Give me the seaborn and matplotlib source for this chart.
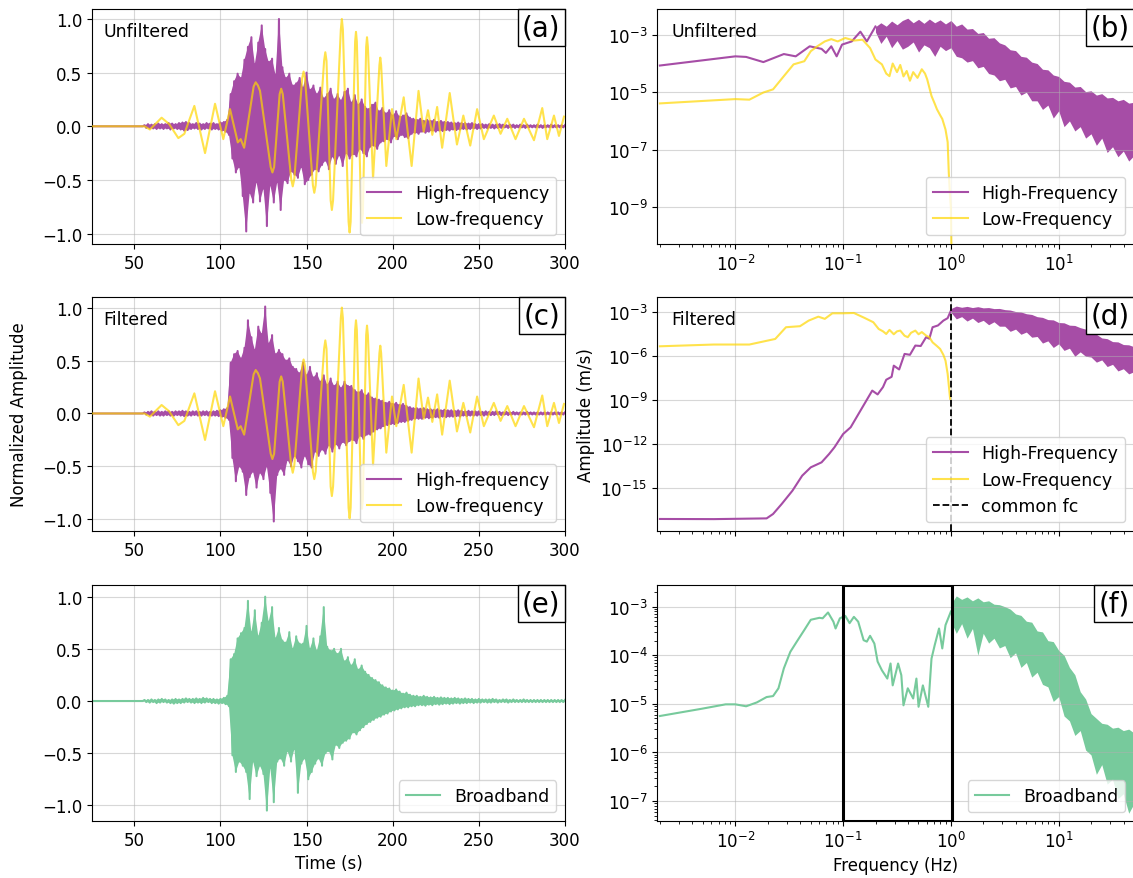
import numpy as np
import matplotlib
matplotlib.use("Agg")
import matplotlib.pyplot as plt
import seaborn as sns
from matplotlib.offsetbox import AnchoredText

plt.rcParams['font.family'] = ['DejaVu Sans']
plt.rcParams['font.size'] = 12

# ---------------- waveform data (normalized amplitude) ----------------
PRE_T = [25.5, 55.0]
PRE_V = [0.0, 0.0]
WAVE_T0 = 56  # peaks at 56,58,...  troughs at 57,59,...

HF_A_UP = [0.01, 0.02, 0.015, 0.02, 0.025, 0.02, 0.02, 0.03, 0.025, 0.02,
           0.03, 0.035, 0.04, 0.03, 0.02, 0.03, 0.025, 0.02, 0.03, 0.025,
           0.03, 0.02, 0.035, 0.04, 0.06, 0.30, 0.42, 0.49, 0.45, 0.62,
           0.74, 0.83, 0.58, 0.78, 0.94, 0.72, 0.60, 0.63, 0.48, 1.00,
           0.55, 0.45, 0.49, 0.38, 0.40, 0.45, 0.36, 0.50, 0.34, 0.38,
           0.30, 0.36, 0.26, 0.30, 0.35, 0.25, 0.30, 0.24, 0.32, 0.35,
           0.22, 0.29, 0.20, 0.25, 0.18, 0.16, 0.20, 0.22, 0.14, 0.17,
           0.12, 0.15, 0.10, 0.14, 0.09, 0.10, 0.12, 0.08, 0.07, 0.06,
           0.07, 0.05, 0.06, 0.05, 0.06, 0.04, 0.05, 0.04, 0.04, 0.035,
           0.03, 0.035, 0.03, 0.03, 0.025, 0.03, 0.02, 0.02, 0.02, 0.015,
           0.02, 0.015, 0.015, 0.02, 0.015, 0.01, 0.015, 0.015, 0.01, 0.015,
           0.01, 0.015, 0.01, 0.01, 0.015, 0.01, 0.01, 0.01, 0.015, 0.01,
           0.01, 0.01, 0.01]
HF_A_LO = [0.015, 0.02, 0.02, 0.025, 0.02, 0.025, 0.02, 0.03, 0.02, 0.025,
           0.03, 0.04, 0.035, 0.025, 0.02, 0.025, 0.03, 0.025, 0.02, 0.03,
           0.025, 0.03, 0.04, 0.05, 0.08, 0.30, 0.43, 0.38, 0.65, 0.98,
           0.62, 0.71, 0.52, 0.70, 0.58, 0.93, 0.55, 0.71, 0.52, 0.78,
           0.50, 0.53, 0.42, 0.45, 0.48, 0.38, 0.54, 0.50, 0.45, 0.40,
           0.42, 0.36, 0.32, 0.40, 0.28, 0.35, 0.27, 0.37, 0.25, 0.30,
           0.26, 0.28, 0.21, 0.25, 0.28, 0.19, 0.18, 0.21, 0.15, 0.14,
           0.12, 0.15, 0.09, 0.12, 0.08, 0.10, 0.11, 0.07, 0.06, 0.07,
           0.05, 0.06, 0.05, 0.04, 0.05, 0.04, 0.045, 0.035, 0.04, 0.03,
           0.035, 0.03, 0.025, 0.03, 0.025, 0.02, 0.025, 0.02, 0.015, 0.02,
           0.015, 0.02, 0.015, 0.015, 0.01, 0.015, 0.01, 0.015, 0.01, 0.01,
           0.015, 0.01, 0.01, 0.01, 0.01, 0.015, 0.01, 0.01, 0.01, 0.01,
           0.01, 0.01]

HF_C_UP = [0.01, 0.015, 0.02, 0.015, 0.02, 0.015, 0.02, 0.02, 0.015, 0.02,
           0.02, 0.025, 0.02, 0.015, 0.02, 0.02, 0.015, 0.02, 0.02, 0.015,
           0.02, 0.025, 0.03, 0.04, 0.05, 0.48, 0.56, 0.59, 0.52, 0.62,
           0.88, 0.72, 0.60, 0.82, 0.75, 1.01, 0.66, 0.74, 0.56, 0.60,
           0.56, 0.50, 0.52, 0.44, 0.42, 0.38, 0.48, 0.36, 0.44, 0.34,
           0.38, 0.30, 0.36, 0.27, 0.33, 0.26, 0.30, 0.24, 0.30, 0.26,
           0.26, 0.22, 0.20, 0.22, 0.17, 0.19, 0.15, 0.14, 0.13, 0.12,
           0.10, 0.11, 0.09, 0.10, 0.08, 0.09, 0.07, 0.06, 0.05, 0.05,
           0.045, 0.05, 0.04, 0.04, 0.035, 0.04, 0.03, 0.035, 0.03, 0.03,
           0.025, 0.03, 0.025, 0.02, 0.025, 0.02, 0.02, 0.02, 0.015, 0.02,
           0.015, 0.015, 0.02, 0.015, 0.01, 0.015, 0.01, 0.015, 0.01, 0.01,
           0.01, 0.015, 0.01, 0.01, 0.01, 0.01, 0.01, 0.01, 0.01, 0.01,
           0.01, 0.01, 0.01]
HF_C_LO = [0.01, 0.015, 0.02, 0.015, 0.02, 0.02, 0.015, 0.02, 0.02, 0.015,
           0.02, 0.025, 0.02, 0.02, 0.015, 0.02, 0.02, 0.015, 0.02, 0.02,
           0.02, 0.025, 0.03, 0.04, 0.06, 0.42, 0.64, 0.50, 0.55, 0.77,
           0.60, 0.55, 0.70, 0.56, 0.62, 0.50, 0.75, 1.02, 0.58, 0.52,
           0.58, 0.44, 0.50, 0.40, 0.45, 0.51, 0.40, 0.48, 0.51, 0.36,
           0.40, 0.34, 0.38, 0.30, 0.36, 0.29, 0.33, 0.27, 0.30, 0.26,
           0.25, 0.28, 0.21, 0.24, 0.20, 0.20, 0.17, 0.15, 0.14, 0.12,
           0.11, 0.10, 0.10, 0.09, 0.08, 0.08, 0.07, 0.06, 0.05, 0.05,
           0.05, 0.04, 0.045, 0.04, 0.035, 0.04, 0.03, 0.035, 0.03, 0.03,
           0.025, 0.03, 0.02, 0.025, 0.02, 0.02, 0.02, 0.015, 0.02, 0.015,
           0.015, 0.015, 0.01, 0.015, 0.01, 0.015, 0.01, 0.01, 0.01, 0.01,
           0.01, 0.01, 0.01, 0.01, 0.01, 0.01, 0.01, 0.01, 0.01, 0.01,
           0.01, 0.01]

BB_UP = [0.01, 0.01, 0.015, 0.01, 0.015, 0.02, 0.015, 0.01, 0.015, 0.02,
         0.015, 0.02, 0.025, 0.02, 0.02, 0.025, 0.02, 0.03, 0.025, 0.02,
         0.02, 0.015, 0.02, 0.03, 0.05, 0.40, 0.45, 0.60, 0.65, 0.70,
         0.96, 0.66, 0.87, 0.62, 0.75, 1.00, 0.76, 0.90, 0.60, 0.70,
         0.58, 0.56, 0.66, 0.50, 0.62, 0.55, 0.55, 0.72, 0.50, 0.60,
         0.48, 0.62, 0.90, 0.52, 0.48, 0.50, 0.45, 0.50, 0.38, 0.42,
         0.34, 0.40, 0.30, 0.34, 0.28, 0.25, 0.22, 0.20, 0.18, 0.15,
         0.13, 0.12, 0.10, 0.11, 0.09, 0.07, 0.08, 0.06, 0.05, 0.05,
         0.04, 0.05, 0.04, 0.035, 0.04, 0.03, 0.035, 0.03, 0.03, 0.025,
         0.03, 0.025, 0.02, 0.025, 0.02, 0.02, 0.015, 0.02, 0.015, 0.015,
         0.015, 0.02, 0.015, 0.01, 0.015, 0.015, 0.01, 0.015, 0.01, 0.01,
         0.015, 0.01, 0.01, 0.01, 0.01, 0.01, 0.01, 0.01, 0.01, 0.01,
         0.01, 0.01, 0.01]
BB_LO = [0.01, 0.015, 0.01, 0.02, 0.015, 0.01, 0.015, 0.02, 0.025, 0.02,
         0.02, 0.015, 0.01, 0.015, 0.02, 0.015, 0.02, 0.015, 0.01, 0.02,
         0.02, 0.025, 0.02, 0.03, 0.05, 0.52, 0.68, 0.58, 0.62, 0.68,
         0.94, 0.58, 0.72, 0.62, 0.70, 1.05, 0.64, 0.97, 0.58, 0.55,
         0.62, 0.48, 0.58, 0.46, 0.88, 0.60, 0.55, 0.75, 0.68, 0.60,
         0.55, 0.62, 0.50, 0.48, 0.56, 0.42, 0.45, 0.40, 0.38, 0.36,
         0.30, 0.32, 0.28, 0.25, 0.22, 0.20, 0.18, 0.16, 0.15, 0.13,
         0.12, 0.10, 0.09, 0.08, 0.07, 0.06, 0.06, 0.05, 0.05, 0.04,
         0.04, 0.045, 0.035, 0.04, 0.03, 0.035, 0.03, 0.025, 0.03, 0.025,
         0.02, 0.025, 0.02, 0.02, 0.015, 0.02, 0.015, 0.015, 0.01, 0.015,
         0.015, 0.01, 0.015, 0.01, 0.01, 0.015, 0.01, 0.01, 0.01, 0.01,
         0.01, 0.01, 0.01, 0.01, 0.01, 0.01, 0.01, 0.01, 0.01, 0.01,
         0.01, 0.01]

# low-frequency trace: extrema and shoulders (time, value)
LF_T = [25.5, 56, 59.1, 65.9, 70.3, 75.6, 79.1, 84.9, 91.1, 96.9, 101.7, 105.6,
        110.1, 111.8, 113.8, 119.3, 120.5, 121.8, 123.0, 129.2, 130.2, 131.2,
        134.4, 135.3, 136.2, 141.1, 142.0, 142.9, 147.5, 148.3, 149.1,
        153.7, 154.5, 155.3, 160.2, 160.9, 161.6, 164.0, 164.7, 165.4,
        169.9, 170.5, 171.1, 174.4, 175.0, 175.6, 178.2, 178.7, 179.2,
        181.7, 182.2, 182.7, 184.6, 185.1, 185.6, 188.6, 192.3, 192.8, 193.3,
        196.3, 199.6, 202.1, 206.4, 211.0, 215.0, 218.0, 220.5, 223.0, 225.8,
        228.7, 233.1, 237.3, 241.0, 245.0, 249.0, 252.9, 258.7, 262.6, 266.5,
        271.3, 276.2, 282.0, 286.8, 289.7, 293.6, 296.5, 299.4]
LF_V = [0.0, 0.0, -0.03, 0.08, 0.02, -0.11, -0.07, 0.19, -0.25, 0.21, -0.12, 0.16,
        -0.15, -0.12, -0.20, 0.37, 0.41, 0.38, 0.33, -0.38, -0.43, -0.38,
        0.30, 0.35, 0.30, -0.49, -0.56, -0.49, 0.45, 0.51, 0.45,
        -0.55, -0.62, -0.55, 0.61, 0.69, 0.61, -0.69, -0.78, -0.69,
        0.90, 1.00, 0.90, -0.89, -0.99, -0.89, 0.79, 0.88, 0.79,
        -0.81, -0.90, -0.81, 0.74, 0.83, 0.74, -0.49, 0.57, 0.64, 0.57,
        -0.37, 0.16, -0.12, 0.27, -0.37, 0.33, -0.05, 0.15, -0.08, 0.18,
        -0.20, 0.31, -0.17, 0.10, -0.18, 0.16, -0.12, 0.10, -0.07, 0.07,
        -0.12, 0.07, -0.13, 0.17, -0.12, 0.10, -0.09, 0.09]

# ---------------- spectra (log10 frequency [Hz], log10 amplitude [m/s]) ----------------
B_HF_LOGF = [-2.70, -2.0, -1.90, -1.74, -1.55, -1.44, -1.31, -1.20, -1.16, -1.11,
             -1.06, -1.01, -0.92, -0.84, -0.78, -0.70]
B_HF_LOGA = [-4.07, -3.75, -3.77, -3.95, -3.67, -3.75, -3.40, -3.49, -3.63, -3.40,
             -3.75, -3.34, -3.23, -2.89, -3.23, -2.71]
B_BAND_TOP = [-2.72, -2.58, -2.70, -2.52, -2.65, -2.50, -2.42, -2.58, -2.46, -2.60,
              -2.45, -2.58, -2.48, -2.62, -2.50, -2.70, -2.62, -2.80, -2.78, -2.95,
              -2.92, -3.12, -3.10, -3.28, -3.35, -3.52, -3.55, -3.75, -3.78, -3.95,
              -4.00, -4.20, -4.22, -4.40, -4.45, -4.62, -4.65, -4.82, -4.80, -4.98,
              -4.95, -5.10, -5.05, -5.20, -5.18, -5.30, -5.25, -5.38, -5.35]
B_BAND_BOT = [-2.90, -3.30, -3.05, -3.45, -3.20, -3.50, -3.40, -3.25, -3.60, -3.35,
              -3.45, -3.75, -3.40, -3.55, -3.45, -3.75, -3.80, -3.95, -3.90, -4.15,
              -4.10, -4.35, -4.40, -4.60, -4.55, -4.85, -4.80, -5.10, -5.00, -5.30,
              -5.30, -5.60, -5.45, -5.90, -5.65, -6.20, -6.00, -6.35, -6.20, -6.60,
              -6.45, -6.85, -6.60, -7.10, -6.90, -7.25, -7.05, -7.40, -7.20]
B_LF_LOGF = [-2.70, -2.0, -1.87, -1.74, -1.65, -1.55, -1.46, -1.36, -1.30, -1.24,
             -1.17, -1.11, -1.05, -0.98, -0.90, -0.82, -0.75, -0.70, -0.64, -0.60,
             -0.57, -0.54, -0.50, -0.47, -0.44, -0.41, -0.38, -0.35, -0.31, -0.27,
             -0.24, -0.22, -0.18, -0.15, -0.13, -0.10, -0.08, -0.05, -0.03, -0.02,
             -0.01, 0.0, 0.005]
B_LF_LOGA = [-5.39, -5.24, -5.26, -5.01, -4.90, -4.44, -4.03, -3.92, -3.57, -3.40,
             -3.23, -3.15, -3.23, -3.11, -3.20, -3.17, -3.46, -3.86, -4.03, -4.35,
             -4.44, -4.00, -4.30, -4.05, -4.45, -4.26, -4.60, -4.30, -4.50, -4.20,
             -4.35, -4.55, -5.13, -5.40, -5.59, -5.80, -5.93, -6.30, -6.74, -7.77,
             -8.50, -9.03, -10.5]

D_HF_LOGF = [-2.70, -2.2, -1.71, -1.65, -1.57, -1.47, -1.38, -1.30, -1.20, -1.13,
             -1.08, -1.00, -0.93, -0.83, -0.73, -0.68, -0.63, -0.60, -0.55, -0.53,
             -0.48, -0.43, -0.38, -0.33, -0.28, -0.23, -0.20, -0.17, -0.12, -0.07,
             -0.03, 0.0]
D_HF_LOGA = [-17.09, -17.10, -17.05, -16.75, -16.07, -15.16, -14.14, -13.57, -13.23, -12.66,
             -12.20, -11.30, -10.84, -9.59, -8.34, -8.60, -8.10, -7.60, -7.40, -6.64,
             -6.90, -5.84, -5.90, -5.27, -5.30, -4.70, -4.80, -4.02, -3.90, -3.57,
             -3.40, -2.89]
D_BAND_TOP = [-2.75, -2.58, -2.66, -2.60, -2.68, -2.62, -2.70, -2.68, -2.75, -2.74,
              -2.82, -2.85, -2.95, -2.98, -3.10, -3.15, -3.30, -3.35, -3.50, -3.52,
              -3.70, -3.72, -3.88, -3.90, -4.05, -4.15, -4.40, -4.50, -4.75, -4.80,
              -5.00, -5.02, -5.20, -5.22, -5.35]
D_BAND_BOT = [-3.00, -3.45, -3.30, -3.60, -3.40, -3.70, -3.55, -3.85, -3.65, -3.95,
              -3.95, -4.30, -4.15, -4.50, -4.35, -4.70, -4.65, -5.10, -4.95, -5.40,
              -5.15, -5.60, -5.45, -6.00, -5.70, -6.00, -6.05, -6.40, -6.25, -6.70,
              -6.55, -7.00, -6.85, -7.20, -7.05]
D_LF_LOGF = [-2.70, -2.2, -1.87, -1.70, -1.63, -1.53, -1.40, -1.32, -1.23, -1.17,
             -1.10, -1.00, -0.90, -0.80, -0.72, -0.67, -0.63, -0.60, -0.57, -0.53,
             -0.50, -0.47, -0.43, -0.40, -0.37, -0.33, -0.30, -0.27, -0.23, -0.20,
             -0.17, -0.13, -0.10, -0.07, -0.05, -0.03, -0.007]
D_LF_LOGA = [-5.32, -5.20, -5.20, -4.93, -4.82, -4.02, -3.95, -3.57, -3.30, -3.45,
             -3.07, -3.07, -3.05, -3.39, -3.68, -4.14, -4.30, -4.48, -4.20, -4.50,
             -4.30, -4.25, -4.60, -4.70, -4.40, -4.25, -4.50, -4.35, -4.59, -4.70,
             -5.05, -5.30, -5.50, -5.90, -6.30, -7.20, -8.90]

F_BB_LOGF = [-2.70, -2.31, -2.09, -2.0, -1.90, -1.80, -1.71, -1.65, -1.60, -1.55,
             -1.49, -1.43, -1.36, -1.30, -1.22, -1.19, -1.14, -1.09, -1.07, -1.03,
             -0.98, -0.94, -0.90, -0.86, -0.81, -0.78, -0.75, -0.71, -0.68, -0.64,
             -0.59, -0.56, -0.54, -0.49, -0.46, -0.44, -0.40, -0.35, -0.32, -0.30,
             -0.26, -0.21, -0.18, -0.15, -0.11, -0.08, -0.05, 0.0]
F_BB_LOGA = [-5.25, -5.10, -5.01, -5.01, -5.05, -4.97, -4.86, -4.84, -4.68, -4.27,
             -3.93, -3.72, -3.48, -3.27, -3.23, -3.24, -3.12, -3.31, -3.45, -3.24,
             -3.19, -3.34, -3.21, -3.31, -3.69, -3.72, -3.60, -3.76, -4.13, -4.31,
             -4.48, -4.17, -4.62, -4.17, -4.41, -5.03, -4.68, -4.89, -4.48, -5.06,
             -4.62, -5.06, -4.07, -3.79, -3.45, -3.86, -3.38, -3.10]
F_BAND_TOP = [-2.95, -2.78, -2.85, -2.80, -2.88, -2.82, -2.90, -2.88, -2.95, -2.96,
              -3.00, -3.05, -3.15, -3.18, -3.30, -3.32, -3.50, -3.52, -3.70, -3.72,
              -3.90, -4.00, -4.25, -4.40, -4.75, -4.90, -5.20, -5.30, -5.40, -5.42,
              -5.50, -5.48, -5.55, -5.52, -5.60]
F_BAND_BOT = [-3.30, -3.55, -3.35, -3.65, -3.45, -4.00, -3.55, -3.75, -3.65, -3.85,
              -3.80, -4.05, -3.95, -4.25, -4.15, -4.45, -4.35, -4.60, -4.65, -4.95,
              -4.85, -5.25, -5.35, -5.65, -5.55, -5.95, -6.05, -6.45, -6.25, -6.65,
              -6.55, -6.95, -6.85, -7.25, -7.05]

BAND_B_LOGF = np.round(np.arange(-0.70, 1.701, 0.05), 3)   # spectral sample grid
BAND_DF_LOGF = np.round(np.arange(0.0, 1.701, 0.05), 3)

# alpha-0.7 colours pre-blended on white (purple, gold, mediumseagreen)
C_HF = '#A64DA6'
C_LF = 'gold'
C_BB = '#77CA9C'
ALPHA_LF = 0.7
ANNOT_FS = 12.5


def zigzag(up, lo):
    n = len(up) + len(lo)
    t = WAVE_T0 + np.arange(n, dtype=float)
    y = np.empty(n)
    y[0::2] = up
    y[1::2] = -np.asarray(lo)
    return np.concatenate([PRE_T, t]), np.concatenate([PRE_V, y])


def outline(up, lo):
    t_up = WAVE_T0 + 2.0 * np.arange(len(up))
    t_lo = WAVE_T0 + 1.0 + 2.0 * np.arange(len(lo))
    xs = np.concatenate([t_up, t_lo[::-1]])
    ys = np.concatenate([np.asarray(up), -np.asarray(lo)[::-1]])
    return xs, ys


def draw_wave(ax, up, lo, color, label):
    xs, ys = outline(up, lo)
    ax.fill(xs, ys, color=color, lw=0, zorder=2)
    t, y = zigzag(up, lo)
    sns.lineplot(x=t, y=y, ax=ax, color=color, label=label, estimator=None,
                 sort=False, zorder=2.1)


def panel_label(ax, s):
    at = AnchoredText(s, loc='upper right', prop=dict(size=20), frameon=True,
                      pad=0.16, borderpad=0.0)
    at.patch.set_boxstyle('square,pad=0')
    at.patch.set_edgecolor('black')
    at.patch.set_linewidth(1.0)
    at.zorder = 10
    ax.add_artist(at)


fig = plt.figure(figsize=(11.33, 8.79), dpi=100)
L, LWD = 92 / 1133, 473 / 1133
R, RWD = 657 / 1133, 477 / 1133
rows = [(1 - 245 / 879, 235 / 879), (1 - 532 / 879, 234 / 879), (1 - 822 / 879, 236 / 879)]
ax_a = fig.add_axes([L, rows[0][0], LWD, rows[0][1]])
ax_b = fig.add_axes([R, rows[0][0], RWD, rows[0][1]])
ax_c = fig.add_axes([L, rows[1][0], LWD, rows[1][1]])
ax_d = fig.add_axes([R, rows[1][0], RWD, rows[1][1]])
ax_e = fig.add_axes([L, rows[2][0], LWD, rows[2][1]])
ax_f = fig.add_axes([R, rows[2][0], RWD, rows[2][1]])

# ---- time series ----
for ax, up, lo, txt in [(ax_a, HF_A_UP, HF_A_LO, 'Unfiltered'), (ax_c, HF_C_UP, HF_C_LO, 'Filtered')]:
    draw_wave(ax, up, lo, C_HF, 'High-frequency')
    sns.lineplot(x=np.array(LF_T), y=np.array(LF_V), ax=ax, color=C_LF, alpha=ALPHA_LF,
                 label='Low-frequency', estimator=None, sort=False, zorder=3)
    ax.text(0.024, 0.905, txt, transform=ax.transAxes, fontsize=ANNOT_FS, va='center', ha='left')

draw_wave(ax_e, BB_UP, BB_LO, C_BB, 'Broadband')

ax_a.set_ylim(-1.097, 1.093)
ax_c.set_ylim(-1.11, 1.10)
ax_e.set_ylim(-1.15, 1.112)
for ax in (ax_a, ax_c, ax_e):
    ax.set_xlim(25.5, 300)
    ax.set_xticks([50, 100, 150, 200, 250, 300])
    ax.set_yticks([-1.0, -0.5, 0.0, 0.5, 1.0])
    ax.grid(True, alpha=0.5)
    ax.set_xlabel('')
    ax.set_ylabel('')
    ax.legend(loc='lower right', fontsize=ANNOT_FS)

# ---- spectra ----
def p10(v):
    return 10.0 ** np.asarray(v, dtype=float)

sns.lineplot(x=p10(B_HF_LOGF), y=p10(B_HF_LOGA), ax=ax_b, color=C_HF,
             label='High-Frequency', estimator=None, sort=False)
ax_b.fill_between(p10(BAND_B_LOGF), p10(B_BAND_BOT), p10(B_BAND_TOP), color=C_HF, lw=0)
sns.lineplot(x=p10(B_LF_LOGF), y=p10(B_LF_LOGA), ax=ax_b, color=C_LF, alpha=ALPHA_LF,
             label='Low-Frequency', estimator=None, sort=False, zorder=3)

sns.lineplot(x=p10(D_HF_LOGF), y=p10(D_HF_LOGA), ax=ax_d, color=C_HF,
             label='High-Frequency', estimator=None, sort=False)
ax_d.fill_between(p10(BAND_DF_LOGF), p10(D_BAND_BOT), p10(D_BAND_TOP), color=C_HF, lw=0)
sns.lineplot(x=p10(D_LF_LOGF), y=p10(D_LF_LOGA), ax=ax_d, color=C_LF, alpha=ALPHA_LF,
             label='Low-Frequency', estimator=None, sort=False, zorder=3)
ax_d.axvline(1.0, color='black', ls='--', lw=1.3, label='common fc', zorder=4)

sns.lineplot(x=p10(F_BB_LOGF), y=p10(F_BB_LOGA), ax=ax_f, color=C_BB,
             label='Broadband', estimator=None, sort=False)
ax_f.fill_between(p10(BAND_DF_LOGF), p10(F_BAND_BOT), p10(F_BAND_TOP), color=C_BB, lw=0)
ax_f.axvspan(0.1, 1.02, fill=False, edgecolor='black', lw=2.2, zorder=5)

for ax in (ax_b, ax_d, ax_f):
    ax.set_xscale('log')
    ax.set_yscale('log')
    ax.set_xlim(0.001875, 50)
    ax.grid(True, which='major', alpha=0.5)
    ax.set_xlabel('')
    ax.set_ylabel('')
    ax.legend(loc='lower right', fontsize=ANNOT_FS)

ax_b.set_ylim(10 ** -10.29, 10 ** -2.10)
ax_b.set_yticks([1e-9, 1e-7, 1e-5, 1e-3])
ax_d.set_ylim(10 ** -17.91, 10 ** -1.96)
ax_d.set_yticks([1e-15, 1e-12, 1e-9, 1e-6, 1e-3])
ax_f.set_ylim(10 ** -7.41, 10 ** -2.555)
ax_f.set_yticks([1e-7, 1e-6, 1e-5, 1e-4, 1e-3])
for ax in (ax_b, ax_d, ax_f):
    ax.set_xticks([1e-2, 1e-1, 1e0, 1e1])
ax_d.tick_params(axis='x', which='both', labelbottom=False)

ax_b.text(0.03, 0.905, 'Unfiltered', transform=ax_b.transAxes, fontsize=ANNOT_FS, va='center')
ax_d.text(0.03, 0.905, 'Filtered', transform=ax_d.transAxes, fontsize=ANNOT_FS, va='center')

for ax, s in zip((ax_a, ax_b, ax_c, ax_d, ax_e, ax_f), ['(a)', '(b)', '(c)', '(d)', '(e)', '(f)']):
    panel_label(ax, s)

ax_c.set_ylabel('Normalized Amplitude', fontsize=12, labelpad=10)
ax_d.set_ylabel('Amplitude (m/s)', fontsize=12)
ax_e.set_xlabel('Time (s)', fontsize=12)
ax_f.set_xlabel('Frequency (Hz)', fontsize=12)

fig.savefig('out.png', dpi=100)
